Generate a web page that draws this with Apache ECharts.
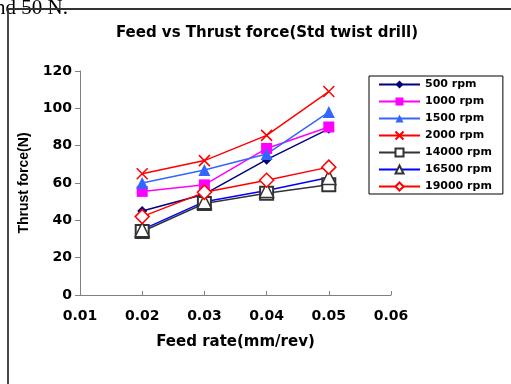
<!DOCTYPE html>
<html>
<head>
<meta charset="utf-8">
<script src="https://cdn.jsdelivr.net/npm/echarts@6/dist/echarts.min.js"></script>
<style>
  html, body { margin: 0; padding: 0; background: #fff; }
  #chart { width: 511px; height: 384px; }
</style>
</head>
<body>
<div id="chart"></div>
<script>
// feed rates (mm/rev)
let feeds = [0.02, 0.03, 0.04, 0.05];

let rpm500 = [45, 54, 72.5, 89];
let rpm1000 = [55.5, 59, 78.5, 90];
let rpm1500 = [60, 67, 75.5, 98];
let rpm2000 = [65, 72, 85.5, 109];
let rpm14000 = [34, 49, 54.5, 59];
let rpm16500 = [35, 50, 56, 63];
let rpm19000 = [42, 55, 61.5, 68.5];

let pairs = vals => vals.map((v, i) => [feeds[i], v]);

let crossPath = "path://M0,0L10,10M10,0L0,10";
let wide = "DejaVu Sans, Verdana, sans-serif";

let mkSeries = (name, vals, color, symbol, size, opts) =>
  Object.assign(
    {
      name: name,
      type: "line",
      data: pairs(vals),
      symbol: symbol,
      symbolSize: size,
      lineStyle: { color: color, width: 1.5 },
      itemStyle: { color: color },
      z: 2
    },
    opts || {}
  );

let option = {
  backgroundColor: "#fff",
  animation: false,
  textStyle: { fontFamily: wide },
  title: {
    text: "Feed vs Thrust force(Std twist drill)",
    left: 262,
    textAlign: "center",
    top: 21,
    textStyle: { fontSize: 15, fontWeight: "bold", color: "#000", fontFamily: wide }
  },
  legend: {
    orient: "vertical",
    left: 369,
    top: 76,
    padding: [3, 11, 2, 9],
    itemGap: 6,
    itemWidth: 41,
    itemHeight: 10,
    backgroundColor: "#fff",
    borderColor: "#000",
    borderWidth: 1,
    textStyle: { fontSize: 11, fontWeight: "bold", color: "#000", fontFamily: wide },
    data: ["500 rpm", "1000 rpm", "1500 rpm", "2000 rpm", "14000 rpm", "16500 rpm", "19000 rpm"]
  },
  grid: { left: 80, right: 120, top: 71, bottom: 89 },
  xAxis: {
    type: "value",
    min: 0.01,
    max: 0.06,
    interval: 0.01,
    name: "Feed rate(mm/rev)",
    nameLocation: "middle",
    nameGap: 40,
    nameTextStyle: { fontSize: 15, fontWeight: "bold", color: "#000", fontFamily: wide },
    axisLine: { lineStyle: { color: "#808080" } },
    axisTick: { inside: true, length: 4, lineStyle: { color: "#808080" } },
    axisLabel: {
      fontSize: 14,
      fontWeight: "bold",
      color: "#000",
      margin: 14,
      fontFamily: wide,
      formatter: v => v.toFixed(2)
    },
    splitLine: { show: false }
  },
  yAxis: {
    type: "value",
    min: 0,
    max: 120,
    interval: 20,
    name: "Thrust force(N)",
    nameLocation: "middle",
    nameGap: 49,
    nameTextStyle: {
      fontSize: 14,
      fontWeight: "bold",
      color: "#000",
      fontFamily: "Liberation Sans, Arial, sans-serif"
    },
    axisLine: { show: true, lineStyle: { color: "#808080" } },
    axisTick: { show: true, length: 5, lineStyle: { color: "#808080" } },
    axisLabel: { fontSize: 14, fontWeight: "bold", color: "#000", margin: 8, fontFamily: wide },
    splitLine: { show: false }
  },
  graphic: [
    {
      type: "text",
      z: 1,
      style: {
        x: -5,
        y: 8,
        verticalAlign: "middle",
        text: "nd 50 N.",
        font: "21px 'Liberation Serif', 'Times New Roman', serif",
        fill: "#000"
      }
    },
    {
      type: "line",
      z: 2,
      shape: { x1: 8, y1: 9, x2: 511, y2: 9 },
      style: { stroke: "#333", lineWidth: 1.8 }
    },
    {
      type: "line",
      z: 2,
      shape: { x1: 8, y1: 8, x2: 8, y2: 384 },
      style: { stroke: "#333", lineWidth: 1.8 }
    }
  ],
  series: [
    mkSeries("500 rpm", rpm500, "#000080", "diamond", 10),
    mkSeries("1000 rpm", rpm1000, "#ff00ff", "rect", 11),
    mkSeries("1500 rpm", rpm1500, "#3366ff", "triangle", 12),
    mkSeries("2000 rpm", rpm2000, "#ff0000", crossPath, 11, {
      itemStyle: { color: "#ff0000", borderColor: "#ff0000", borderWidth: 1.5 }
    }),
    mkSeries("14000 rpm", rpm14000, "#333333", "rect", 13, {
      itemStyle: { color: "#fff", borderColor: "#333333", borderWidth: 2 },
      lineStyle: { color: "#333333", width: 1.5 }
    }),
    mkSeries("16500 rpm", rpm16500, "#0000ff", "triangle", 14, {
      itemStyle: { color: "#fff", borderColor: "#333333", borderWidth: 1.5 },
      lineStyle: { color: "#0000ff", width: 1.5 }
    }),
    mkSeries("19000 rpm", rpm19000, "#ff0000", "diamond", 14, {
      itemStyle: { color: "#fff", borderColor: "#ff0000", borderWidth: 1.5 },
      z: 3
    })
  ]
};

let myChart = echarts.init(document.getElementById("chart"));
myChart.setOption(option);
</script>
</body>
</html>
